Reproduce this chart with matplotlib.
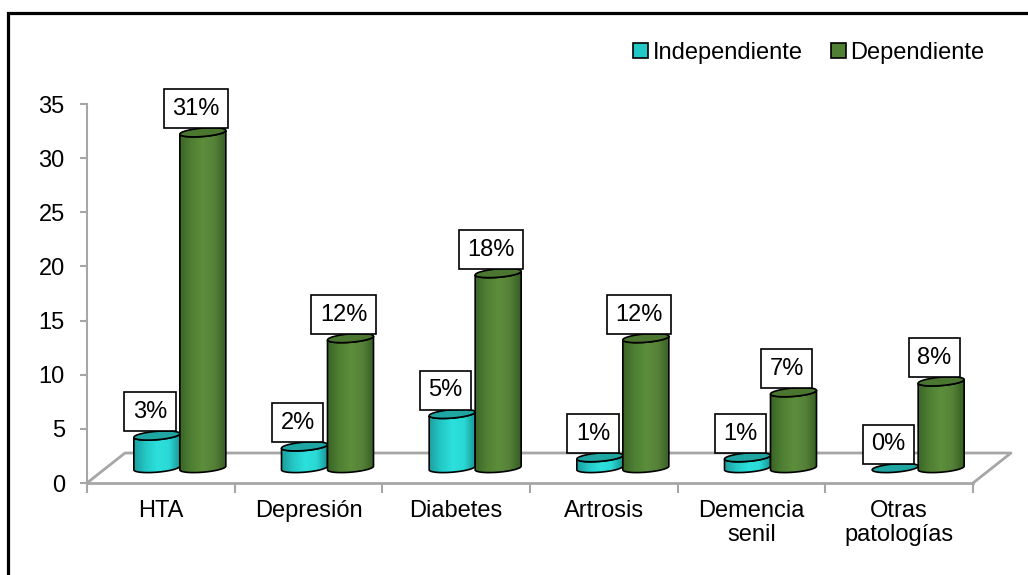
import matplotlib.pyplot as plt
import numpy as np
from matplotlib.patches import Polygon, Patch, Rectangle
from matplotlib.colors import LinearSegmentedColormap

plt.rcParams['font.family'] = ['Liberation Sans', 'DejaVu Sans']

categorias = ['HTA', 'Depresión', 'Diabetes', 'Artrosis', 'Demencia\nsenil', 'Otras\npatologías']
independiente = [3, 2, 5, 1, 1, 0]
dependiente = [31, 12, 18, 12, 7, 8]
series = ['Independiente', 'Dependiente']
yticks = [0, 5, 10, 15, 20, 25, 30, 35]

W, H = 1028, 575
fs = 17
fig = plt.figure(figsize=(W / 100, H / 100), dpi=100)
x0, x1, ytop, ybot = 87, 973, 104, 483
ax = fig.add_axes([x0 / W, (H - ybot) / H, (x1 - x0) / W, (ybot - ytop) / H])
ax.set_xlim(0, 6)
ax.set_ylim(0, 35)

# pixel -> data unit factors
sx = 6 / (x1 - x0)
sy = 35 / (ybot - ytop)
depth_dx = 38 * sx          # full floor depth
depth_dy = 30 * sy
bar_w = 46 * sx
ell_b = 4.2 * sy            # half height of the cylinder caps
tilt = 0.08 * sy / sx       # caps lean up to the right

grey = '#a6a6a6'
for s in ['top', 'right']:
    ax.spines[s].set_visible(False)
ax.spines['left'].set_color(grey)
ax.spines['bottom'].set_color(grey)
ax.spines['left'].set_linewidth(1.5)
ax.spines['bottom'].set_linewidth(2)

ax.set_yticks(yticks)
ax.set_xticks(range(7))
ax.set_xticklabels([])
ax.tick_params(axis='y', length=5, color=grey, width=1.5, labelsize=fs, pad=11)
ax.tick_params(axis='x', length=7, color=grey, width=1.5)

# floor outline
floor_x = [0, depth_dx, 6 + depth_dx, 6]
floor_y = [0, depth_dy, depth_dy, 0]
ax.plot(floor_x, floor_y, color=grey, lw=2, clip_on=False, zorder=1)

for i, lab in enumerate(categorias):
    ax.text(i + 0.5, -1.6, lab, ha='center', va='top', fontsize=fs, linespacing=1.1)

cyan_cmap = LinearSegmentedColormap.from_list('cy', ['#1c9f9f', '#24c8c6', '#2ce0dc', '#2ad9d5', '#189393'])
green_cmap = LinearSegmentedColormap.from_list('gr', ['#3b6526', '#4f8033', '#5c8e3c', '#568238', '#365e23'])
tops = ['#1fa5a2', '#4a7630']
cmaps = [cyan_cmap, green_cmap]
legend_cols = ['#22c8c6', '#4f8033']

t = np.linspace(0, 2 * np.pi, 120)
grad = np.linspace(0, 1, 200).reshape(1, -1)


def cap(cx, cy):
    xs = cx + bar_w / 2 * np.cos(t)
    ys = cy + ell_b * np.sin(t) + tilt * (xs - cx)
    return np.column_stack([xs, ys])


def cylinder(cx, base, val, k):
    top = base + val
    lower = t[(t >= np.pi)]
    bx = cx + bar_w / 2 * np.cos(lower)
    by = base + ell_b * np.sin(lower) + tilt * (bx - cx)
    tx = bx[::-1]
    ty = top + ell_b * np.sin(lower[::-1]) + tilt * (tx - cx)
    body = np.column_stack([np.r_[bx, tx], np.r_[by, ty]])
    if val > 0:
        poly = Polygon(body, closed=True, facecolor='none', edgecolor='black', lw=1.2, zorder=3 + k)
        ax.add_patch(poly)
        im = ax.imshow(grad, cmap=cmaps[k], aspect='auto', zorder=2.9 + k,
                       extent=[cx - bar_w / 2, cx + bar_w / 2, base - 2 * ell_b, top + 2 * ell_b])
        im.set_clip_path(poly)
    ax.add_patch(Polygon(cap(cx, top), closed=True, facecolor=tops[k], edgecolor='black',
                         lw=1.2, zorder=3.1 + k))
    return top


base = depth_dy / 2
for i in range(len(categorias)):
    c = i + 0.5 + depth_dx / 2
    for k, vals in enumerate([independiente, dependiente]):
        cx = c + (k - 0.5) * bar_w
        top = cylinder(cx, base, vals[i], k)
        ax.annotate(f'{vals[i]}%', (cx, top + ell_b), xytext=(-5, 6), textcoords='offset points',
                    ha='center', va='bottom', fontsize=fs, zorder=6,
                    bbox=dict(boxstyle='square,pad=0.36', facecolor='white', edgecolor='black', lw=1.2))

ax.set_xlim(0, 6)
ax.set_ylim(0, 35)

handles = [Patch(facecolor=legend_cols[k], edgecolor='black', lw=1.2) for k in range(2)]
fig.legend(handles, series, loc='center left', bbox_to_anchor=(612 / W, 1 - 53 / H), ncol=2,
           frameon=False, fontsize=fs, handlelength=0.62, handleheight=0.62,
           handletextpad=0.2, columnspacing=1.2)

fig.add_artist(Rectangle((8 / W, -0.1), 2, (H - 13.5) / H + 0.1, transform=fig.transFigure,
                         fill=False, edgecolor='black', lw=2.3))

fig.savefig('out.png', dpi=100)
